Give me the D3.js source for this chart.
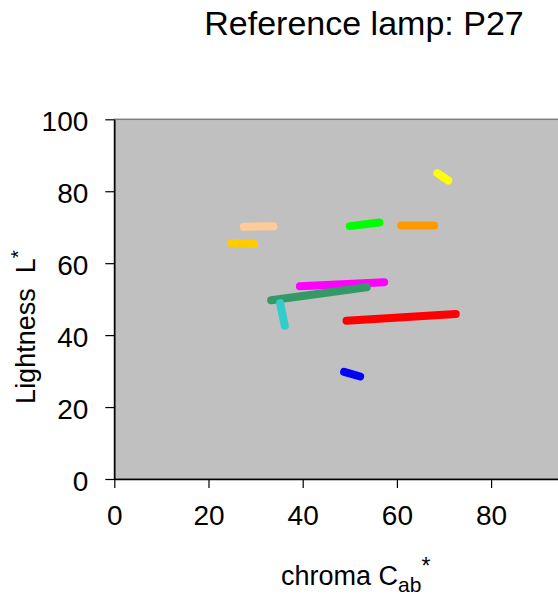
<!DOCTYPE html>
<html>
<head>
<meta charset="utf-8">
<script src="https://cdn.jsdelivr.net/npm/d3@7"></script>
<style>
  body { margin: 0; background: #fff; }
  text { font-family: "Liberation Sans", Arial, sans-serif; fill: #000; }
</style>
</head>
<body>
<div id="chart"></div>
<script>
// one short stroke per sample, drawn from start to end
var sampleColors = ["#ffff00", "#ffcc99", "#ffcc00", "#00ff00", "#ff9900",
                    "#ff00ff", "#339966", "#33cccc", "#ff0000", "#0000ff"];
var chromaStart = [68.6, 27.5, 24.8, 50.0, 60.9, 39.4, 33.3, 35.2, 49.3, 48.8];
var chromaEnd   = [70.9, 33.8, 29.7, 56.3, 67.9, 57.3, 53.6, 36.2, 72.5, 52.2];
var lightStart  = [85.0, 70.1, 65.6, 70.3, 70.5, 53.6, 49.7, 48.9, 44.0, 29.8];
var lightEnd    = [83.0, 70.3, 65.3, 71.3, 70.5, 54.7, 53.3, 42.6, 45.9, 28.5];

// the 100 tick of the x axis falls outside the window
var xTicks = [0, 20, 40, 60, 80];
var yTicks = [0, 20, 40, 60, 80, 100];

var width = 558;
var height = 598;
var margin = {left: 114.3, top: 119.3};
var plotW = 471;
var plotH = 359.7;

var svg = d3.select("#chart").append("svg")
    .attr("width", width)
    .attr("height", height);

var x = d3.scaleLinear().domain([0, 100]).range([margin.left, margin.left + plotW]);
var y = d3.scaleLinear().domain([0, 100]).range([margin.top + plotH, margin.top]);

// plot area
svg.append("rect")
    .attr("x", x(0))
    .attr("y", y(100))
    .attr("width", plotW)
    .attr("height", plotH)
    .attr("fill", "#c0c0c0")
    .attr("stroke", "#808080")
    .attr("stroke-width", 1.5);

var segs = sampleColors.map(function(c, i) {
    return {color: c, x0: chromaStart[i], x1: chromaEnd[i], y0: lightStart[i], y1: lightEnd[i]};
});

svg.append("g")
    .selectAll("line")
    .data(segs)
    .join("line")
    .attr("x1", d => x(d.x0))
    .attr("y1", d => y(d.y0))
    .attr("x2", d => x(d.x1))
    .attr("y2", d => y(d.y1))
    .attr("stroke", d => d.color)
    .attr("stroke-width", 8)
    .attr("stroke-linecap", "round");

// axes
var yAxis = svg.append("g")
    .attr("transform", "translate(" + x(0) + ",0)")
    .call(d3.axisLeft(y).tickValues(yTicks).tickSize(9).tickSizeOuter(0).tickFormat(d3.format("d")));

var xAxis = svg.append("g")
    .attr("transform", "translate(0," + y(0) + ")")
    .call(d3.axisBottom(x).tickValues(xTicks).tickSize(9).tickSizeOuter(0).tickFormat(d3.format("d")));

[xAxis, yAxis].forEach(function(a) {
    a.select(".domain").attr("stroke", "#000").attr("stroke-width", 1.5);
    a.selectAll(".tick line").attr("stroke", "#000").attr("stroke-width", 1.2);
    a.selectAll("text")
        .style("font-family", "'Liberation Sans', Arial, sans-serif")
        .style("font-size", "28px")
        .attr("fill", "#000");
});

yAxis.selectAll("text").attr("x", -26).attr("dy", "0.4em");
xAxis.selectAll("text").attr("y", 46).attr("dy", 0);

// title
svg.append("text")
    .attr("x", 364)
    .attr("y", 35)
    .attr("text-anchor", "middle")
    .style("font-size", "34px")
    .text("Reference lamp: P27");

// y label
var yl = svg.append("text")
    .attr("transform", "translate(35,327) rotate(-90)")
    .attr("text-anchor", "middle")
    .style("font-size", "27px");
yl.append("tspan").text("Lightness\u00a0\u00a0L");
yl.append("tspan").attr("dy", -10).style("font-size", "21px").text("*");

// x label
var xl = svg.append("text")
    .attr("x", 281)
    .attr("y", 585)
    .attr("text-anchor", "start")
    .style("font-size", "27px");
xl.append("tspan").text("chroma C");
xl.append("tspan").attr("dy", 7).style("font-size", "21px").text("ab");
xl.append("tspan").attr("dy", -18).style("font-size", "23px").text("*");
</script>
</body>
</html>
